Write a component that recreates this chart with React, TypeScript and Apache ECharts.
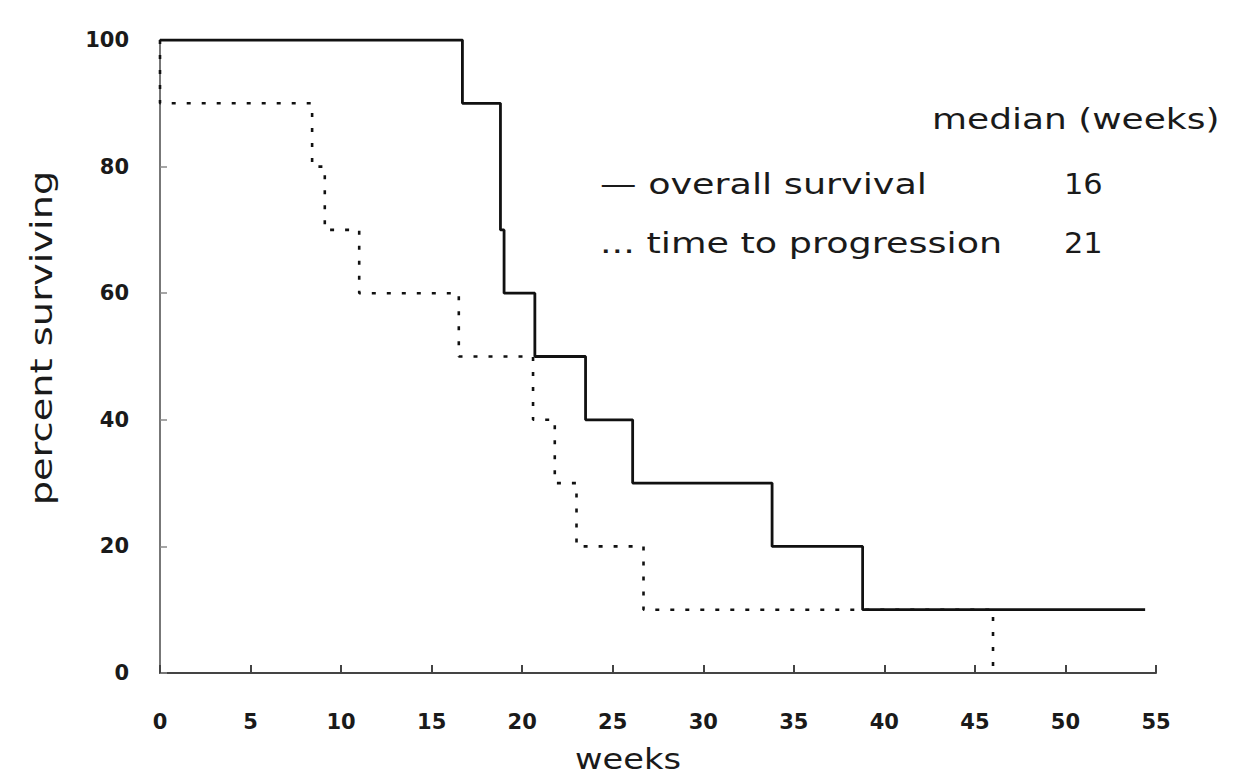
import React, { useEffect, useRef } from "react";
import * as echarts from "echarts";

// Overall survival (solid) — Kaplan-Meier step points
const osWeeks = [0, 16.7, 18.8, 19.0, 20.7, 23.5, 26.1, 33.8, 38.8, 54.4];
const osPercent = [100, 90, 70, 60, 50, 40, 30, 20, 10, 10];

// Time to progression (dotted)
const ttpWeeks = [0, 0, 8.4, 9.1, 11.0, 16.5, 20.6, 21.8, 23.0, 26.7, 46.0];
const ttpPercent = [100, 90, 80, 70, 60, 50, 40, 30, 20, 10, 0];

const xTicks = [0, 5, 10, 15, 20, 25, 30, 35, 40, 45, 50, 55];
const yTicks = [0, 20, 40, 60, 80, 100];

const xAxisTitle = "weeks";
const yAxisTitle = "percent surviving";
const legendTitle = "median (weeks)";
const legendRows = [
  { label: "— overall survival", median: "16" },
  { label: "... time to progression", median: "21" },
];

export default function App() {
  const ref = useRef<HTMLDivElement>(null);

  useEffect(() => {
    if (!ref.current) return;
    const chart = echarts.init(ref.current, null, { renderer: "svg" });

    const pairs = (xs: number[], ys: number[]) => xs.map((x, i) => [x, ys[i]]);
    const labelFont = "DejaVu Sans";
    const textColor = "#1a1a1a";

    const spacedText = (text: string, x: number, y: number, size: number, sx: number, extra: any = {}) => ({
      type: "text",
      x,
      y,
      scaleX: sx,
      ...extra,
      style: {
        text,
        fontFamily: labelFont,
        fontSize: size,
        fill: textColor,
        textAlign: extra.align || "left",
        textVerticalAlign: "middle",
      },
    });

    const option: any = {
      animation: false,
      backgroundColor: "#ffffff",
      grid: { left: 160, right: 80, top: 40, bottom: 103, containLabel: false },
      xAxis: {
        type: "value",
        min: xTicks[0],
        max: xTicks[xTicks.length - 1],
        interval: 5,
        axisLine: { show: true, lineStyle: { color: "#444", width: 2 } },
        axisTick: { show: true, inside: true, length: 8, lineStyle: { color: "#444", width: 2 } },
        axisLabel: {
          margin: 38,
          fontFamily: labelFont,
          fontWeight: "bold",
          fontSize: 21,
          color: textColor,
        },
        splitLine: { show: false },
      },
      yAxis: {
        type: "value",
        min: yTicks[0],
        max: yTicks[yTicks.length - 1],
        interval: 20,
        axisLine: { show: true, lineStyle: { color: "#777", width: 2 } },
        axisTick: { show: true, inside: true, length: 7, lineStyle: { color: "#888", width: 1.5 } },
        axisLabel: {
          margin: 31,
          fontFamily: labelFont,
          fontWeight: "bold",
          fontSize: 21,
          color: textColor,
        },
        splitLine: { show: false },
      },
      series: [
        {
          name: "time to progression",
          type: "line",
          step: "end",
          symbol: "none",
          data: pairs(ttpWeeks, ttpPercent),
          lineStyle: { color: "#111", width: 2.6, type: [4, 11], cap: "butt" },
          z: 2,
        },
        {
          name: "overall survival",
          type: "line",
          step: "end",
          symbol: "none",
          data: pairs(osWeeks, osPercent),
          lineStyle: { color: "#111", width: 2.8, type: "solid" },
          z: 3,
        },
      ],
      graphic: [
        spacedText(legendTitle, 932, 119, 29, 1.24),
        ...legendRows.flatMap((r, i) => [
          spacedText(r.label, 600, 184 + i * 59, 29, 1.26),
          spacedText(r.median, 1064, 184 + i * 59, 29, 1.05),
        ]),
        spacedText(xAxisTitle, 628, 759, 29, 1.16, { align: "center" }),
        spacedText(yAxisTitle, 42, 338, 30, 1.28, { align: "center", rotation: Math.PI / 2 }),
      ],
    };

    chart.setOption(option);
    return () => chart.dispose();
  }, []);

  return (
    <div
      ref={ref}
      style={{ position: "fixed", left: 0, top: 0, width: 1236, height: 776, background: "#fff" }}
    />
  );
}
